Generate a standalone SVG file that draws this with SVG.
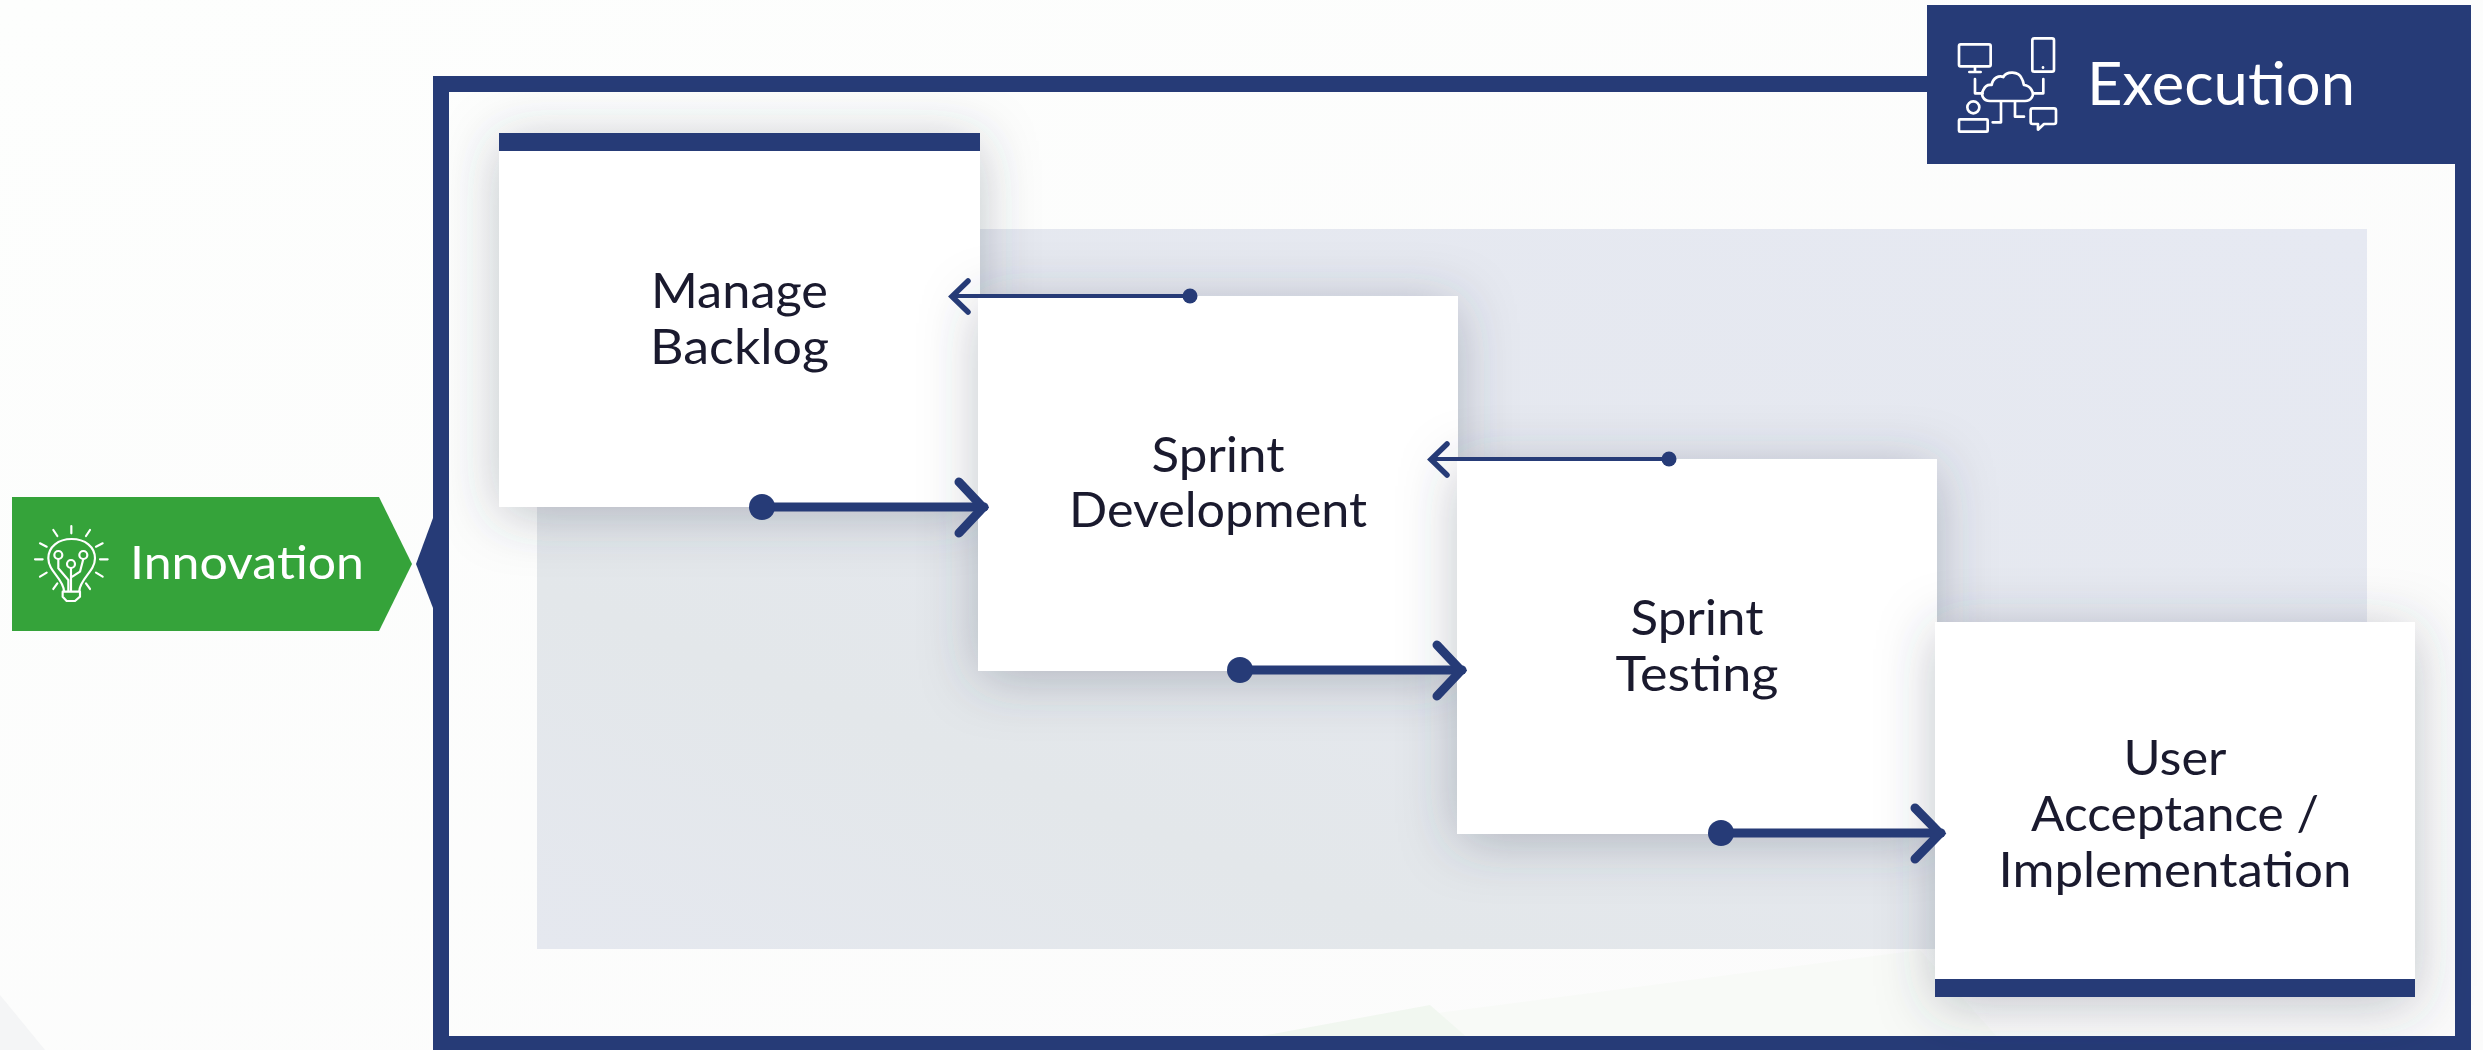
<svg xmlns="http://www.w3.org/2000/svg" width="2483" height="1050" viewBox="0 0 2483 1050">
<style>
.lbl{font-family:"Lato","Noto Sans",sans-serif;font-size:49px;fill:#1a1a2e;text-anchor:middle;lengthAdjust:spacingAndGlyphs}
.hdr{font-family:"Lato","Noto Sans",sans-serif;fill:#fff}
.card{fill:#fff;filter:url(#sh)}
.bar{fill:#263b77}
.ic{fill:none;stroke:#fff;stroke-width:8;stroke-linecap:round;stroke-linejoin:round}
.big{fill:none;stroke:#263b77;stroke-width:9;stroke-linecap:round;stroke-linejoin:miter}
.thin{fill:none;stroke:#263b77;stroke-width:4}
.thinh{fill:none;stroke:#263b77;stroke-width:5.5;stroke-linecap:round}
.dot{fill:#263b77}
</style>
<defs>
<filter id="sh" x="-25%" y="-25%" width="150%" height="155%"><feDropShadow dx="0" dy="8" stdDeviation="28" flood-color="#3a3f55" flood-opacity="0.3"/></filter>
<linearGradient id="pg" x1="1" y1="0" x2="0" y2="1"><stop offset="0" stop-color="#e6e9f2"/><stop offset="0.45" stop-color="#e5e8ef"/><stop offset="0.75" stop-color="#e3e7ea"/><stop offset="1" stop-color="#e5e8ef"/></linearGradient>
<linearGradient id="bg" x1="0" y1="0" x2="1" y2="1"><stop offset="0" stop-color="#fdfefd"/><stop offset="1" stop-color="#fbfbfb"/></linearGradient>
</defs>
<rect width="2483" height="1050" fill="url(#bg)"/>
<polygon points="1230,1040 1920,950 2000,1040" fill="#f8faf7"/>
<polygon points="1240,1040 1430,1005 1470,1040" fill="#f1f7f0"/>
<polygon points="0,995 45,1050 0,1050" fill="#f4f5f6"/>
<g id="panel">
<rect x="537" y="229" width="1830" height="720" fill="url(#pg)"/>
</g>
<g id="frame"><rect x="441" y="84" width="2022" height="960" fill="none" stroke="#263b77" stroke-width="16"/>
<polygon points="433,518 416,564 433,608" fill="#263b77"/></g>
<g id="execution">
<rect class="bar" x="1927" y="5" width="544" height="159"/>
<g transform="translate(1940 25) scale(.3333)" class="ic">
<rect x="57" y="58" width="95" height="66" rx="5"/><path d="M105 124V140M88 141H122"/>
<rect x="277" y="40" width="65" height="100" rx="6"/><path d="M309 127V128"/>
<path d="M150 228C128 228 122 208 130 195C136 182 146 178 155 180C158 158 178 150 190 156C200 138 235 138 245 160C252 172 250 178 252 180C272 182 285 205 275 218C270 226 265 228 255 228Z"/>
<path d="M105 162V205H128M310 162V205H280M183 230V292H158M225 230V275H252"/>
<circle cx="100" cy="247" r="18"/><rect x="57" y="283" width="86" height="37" rx="3"/>
<path d="M278 250H342Q348 250 348 256V291Q348 297 342 297H312L294 314V297H278Q272 297 272 291V256Q272 250 278 250Z"/>
</g>
<text class="hdr" x="2087" y="105" font-size="60" textLength="268" lengthAdjust="spacingAndGlyphs">Execution</text>
</g>
<g id="innovation">
<polygon points="12,497 379,497 412,564 379,631 12,631" fill="#35a33a"/>
<g transform="translate(25 515) scale(.3333)" class="ic" style="stroke-width:6.500">
<path d="M139 33V55M85 45L97 63M195 45L183 63M45 85L65 95M233 85L213 95M30 133H53M225 133H248M45 185L65 173M233 185L213 173M85 222L97 205M195 222L183 205"/>
<path d="M117 228C115 190 70 170 70 130C70 95 100 72 140 72C180 72 210 95 210 130C210 170 165 190 163 228"/>
<circle cx="100" cy="120" r="12"/><circle cx="175" cy="120" r="12"/><circle cx="138" cy="147" r="12"/>
<path d="M100 132V160L130 195V228M138 159V228M175 132L165 170L142 185"/>
<path d="M113 230H165V245L150 258H125L113 245Z"/>
</g>
<text class="hdr" x="130" y="579" font-size="47" textLength="234" lengthAdjust="spacingAndGlyphs">Innovation</text>
</g>
<g id="manage-backlog"><rect class="card" x="499" y="133" width="481" height="374"/><rect class="bar" x="499" y="133" width="481" height="18"/>
<text class="lbl" x="739.5" y="308" textLength="177" lengthAdjust="spacingAndGlyphs">Manage</text><text class="lbl" x="739.5" y="364" textLength="179" lengthAdjust="spacingAndGlyphs">Backlog</text></g>
<g id="sprint-development"><rect class="card" x="978" y="296" width="480" height="375"/>
<text class="lbl" x="1218" y="472" textLength="133" lengthAdjust="spacingAndGlyphs">Sprint</text><text class="lbl" x="1218" y="527" textLength="298" lengthAdjust="spacingAndGlyphs">Development</text></g>
<g id="sprint-testing"><rect class="card" x="1457" y="459" width="480" height="375"/>
<text class="lbl" x="1697" y="635" textLength="133" lengthAdjust="spacingAndGlyphs">Sprint</text><text class="lbl" x="1697" y="691" textLength="163" lengthAdjust="spacingAndGlyphs">Testing</text></g>
<g id="user-acceptance"><rect class="card" x="1935" y="622" width="480" height="375"/><rect class="bar" x="1935" y="979" width="480" height="18"/>
<text class="lbl" x="2175" y="775" textLength="103" lengthAdjust="spacingAndGlyphs">User</text><text class="lbl" x="2175" y="831" textLength="288" lengthAdjust="spacingAndGlyphs">Acceptance /</text><text class="lbl" x="2175" y="887" textLength="353" lengthAdjust="spacingAndGlyphs">Implementation</text></g>
<g id="connectors">
<path class="thin" d="M1190 296H954"/><path class="thinh" d="M968 281L952 296.500L968 312"/><circle class="dot" cx="1190" cy="296" r="7.500"/>
<path class="thin" d="M1669 459H1433"/><path class="thinh" d="M1447 444L1431 459.500L1447 475"/><circle class="dot" cx="1669" cy="459" r="7.500"/>
<path class="big" d="M762 507H984"/><path class="big" d="M959 482L983 507.500L959 533"/><circle class="dot" cx="762" cy="507" r="13"/>
<path class="big" d="M1240 670H1462"/><path class="big" d="M1437 645L1461 670.500L1437 696"/><circle class="dot" cx="1240" cy="670" r="13"/>
<path class="big" d="M1721 833H1941"/><path class="big" d="M1915 808L1940 833.500L1915 859"/><circle class="dot" cx="1721" cy="833" r="13"/>
</g>
</svg>
